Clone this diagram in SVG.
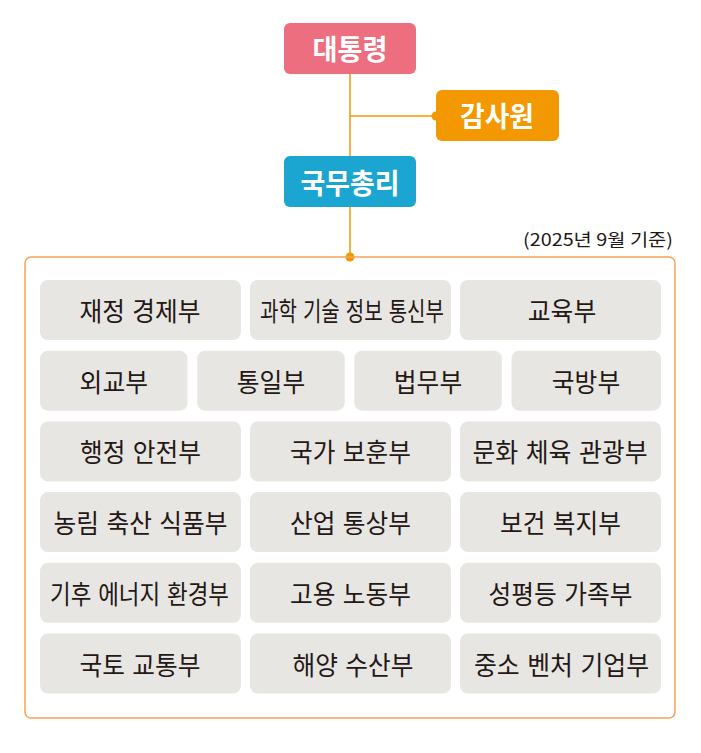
<svg xmlns="http://www.w3.org/2000/svg" width="701" height="753" viewBox="0 0 701 753">
<style>
.top{font-family:"Noto Sans CJK KR","Noto Sans CJK SC",sans-serif;font-size:28px;font-weight:bold;fill:#ffffff;text-anchor:middle}
.dept rect{fill:#e8e6e3}
.lbl{font-family:"Noto Sans CJK KR","Noto Sans CJK SC",sans-serif;font-size:26px;fill:#231815;text-anchor:middle;word-spacing:2px}
.conn{stroke:#f39800;stroke-width:1.5;fill:none}
.dot{fill:#f39800}
</style>
<rect width="701" height="753" fill="#ffffff"/>
<g id="connectors">
<line class="conn" x1="350" y1="74" x2="350" y2="257"/>
<line class="conn" x1="350" y1="116" x2="436" y2="116"/>
<circle class="dot" cx="436" cy="116" r="4.5"/>
<circle class="dot" cx="350" cy="257" r="4.5"/>
</g>
<g id="president"><rect x="284" y="23" width="132" height="51" rx="6" fill="#ec6e7f"/><text class="top" x="350" y="60" textLength="75" lengthAdjust="spacingAndGlyphs">대통령</text></g>
<g id="audit"><rect x="436" y="90" width="123" height="51" rx="6" fill="#f39800"/><text class="top" x="497" y="127" textLength="74" lengthAdjust="spacingAndGlyphs">감사원</text></g>
<g id="pm"><rect x="284" y="156" width="132" height="51" rx="6" fill="#1aa6d0"/><text class="top" x="350" y="193.5" textLength="99" lengthAdjust="spacingAndGlyphs">국무총리</text></g>
<text x="673" y="246" font-family="&quot;Noto Sans CJK KR&quot;,&quot;Noto Sans CJK SC&quot;,sans-serif" font-size="17.5" fill="#231815" text-anchor="end" textLength="150" lengthAdjust="spacingAndGlyphs">(2025년 9월 기준)</text>
<g id="ministries">
<rect x="25" y="257" width="650" height="461" rx="6" fill="none" stroke="#f5a355" stroke-width="1.5"/>
<g id="m1" class="dept"><rect x="40" y="280" width="201" height="60" rx="8"/><text class="lbl" x="140" y="321" textLength="121" lengthAdjust="spacingAndGlyphs">재정 경제부</text></g>
<g id="m2" class="dept"><rect x="250" y="280" width="201" height="60" rx="8"/><text class="lbl" x="352" y="321" textLength="184" lengthAdjust="spacingAndGlyphs">과학 기술 정보 통신부</text></g>
<g id="m3" class="dept"><rect x="460" y="280" width="201" height="60" rx="8"/><text class="lbl" x="562" y="321" textLength="68.4" lengthAdjust="spacingAndGlyphs">교육부</text></g>
<g id="m4" class="dept"><rect x="40" y="350.7" width="147.5" height="60" rx="8"/><text class="lbl" x="113.8" y="391.7" textLength="68.4" lengthAdjust="spacingAndGlyphs">외교부</text></g>
<g id="m5" class="dept"><rect x="197.2" y="350.7" width="147.5" height="60" rx="8"/><text class="lbl" x="271" y="391.7" textLength="68.4" lengthAdjust="spacingAndGlyphs">통일부</text></g>
<g id="m6" class="dept"><rect x="354.3" y="350.7" width="147.5" height="60" rx="8"/><text class="lbl" x="428" y="391.7" textLength="68.4" lengthAdjust="spacingAndGlyphs">법무부</text></g>
<g id="m7" class="dept"><rect x="511.5" y="350.7" width="149.5" height="60" rx="8"/><text class="lbl" x="586" y="391.7" textLength="68.4" lengthAdjust="spacingAndGlyphs">국방부</text></g>
<g id="m8" class="dept"><rect x="40" y="421.4" width="201" height="60" rx="8"/><text class="lbl" x="140.5" y="462.4" textLength="121" lengthAdjust="spacingAndGlyphs">행정 안전부</text></g>
<g id="m9" class="dept"><rect x="250" y="421.4" width="201" height="60" rx="8"/><text class="lbl" x="350.5" y="462.4" textLength="121" lengthAdjust="spacingAndGlyphs">국가 보훈부</text></g>
<g id="m10" class="dept"><rect x="460" y="421.4" width="201" height="60" rx="8"/><text class="lbl" x="560" y="462.4" textLength="175" lengthAdjust="spacingAndGlyphs">문화 체육 관광부</text></g>
<g id="m11" class="dept"><rect x="40" y="492.1" width="201" height="60" rx="8"/><text class="lbl" x="140.5" y="533.1" textLength="174" lengthAdjust="spacingAndGlyphs">농림 축산 식품부</text></g>
<g id="m12" class="dept"><rect x="250" y="492.1" width="201" height="60" rx="8"/><text class="lbl" x="350.5" y="533.1" textLength="121" lengthAdjust="spacingAndGlyphs">산업 통상부</text></g>
<g id="m13" class="dept"><rect x="460" y="492.1" width="201" height="60" rx="8"/><text class="lbl" x="560.5" y="533.1" textLength="121" lengthAdjust="spacingAndGlyphs">보건 복지부</text></g>
<g id="m14" class="dept"><rect x="40" y="562.8" width="201" height="60" rx="8"/><text class="lbl" x="139.5" y="603.8" textLength="179" lengthAdjust="spacingAndGlyphs">기후 에너지 환경부</text></g>
<g id="m15" class="dept"><rect x="250" y="562.8" width="201" height="60" rx="8"/><text class="lbl" x="350.5" y="603.8" textLength="121" lengthAdjust="spacingAndGlyphs">고용 노동부</text></g>
<g id="m16" class="dept"><rect x="460" y="562.8" width="201" height="60" rx="8"/><text class="lbl" x="560.5" y="603.8" textLength="144" lengthAdjust="spacingAndGlyphs">성평등 가족부</text></g>
<g id="m17" class="dept"><rect x="40" y="633.5" width="201" height="60" rx="8"/><text class="lbl" x="140" y="674.5" textLength="121" lengthAdjust="spacingAndGlyphs">국토 교통부</text></g>
<g id="m18" class="dept"><rect x="250" y="633.5" width="201" height="60" rx="8"/><text class="lbl" x="353" y="674.5" textLength="121" lengthAdjust="spacingAndGlyphs">해양 수산부</text></g>
<g id="m19" class="dept"><rect x="460" y="633.5" width="201" height="60" rx="8"/><text class="lbl" x="561.5" y="674.5" textLength="175" lengthAdjust="spacingAndGlyphs">중소 벤처 기업부</text></g>
</g>
</svg>
